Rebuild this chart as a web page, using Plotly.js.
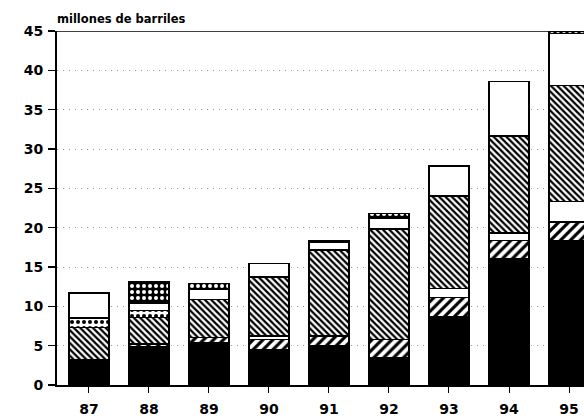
<!DOCTYPE html>
<html><head><meta charset="utf-8">
<script src="https://cdn.plot.ly/plotly-3.0.1.min.js"></script>
<style>html,body{margin:0;padding:0;background:#fff}#c{width:584px;height:419px}</style>
</head><body><div id="c"></div>
<script>
const years = ['87','88','89','90','91','92','93','94','95'];
const segBlack    = [3.0, 4.8, 5.4, 4.45, 4.95, 3.5, 8.7, 16.1, 18.4];
const segLightHatch = [0.2, 0.4, 0.65, 1.35, 1.25, 2.3, 2.45, 2.3, 2.35];
const segWhiteLow = [null, null, null, 0.4, null, null, 1.1, 0.9, 2.55];
const segDenseHatch = [4.1, 3.35, 4.85, 7.55, 10.95, 14.0, 11.75, 12.35, 14.8];
const segDots     = [1.2, 0.95, null, null, null, null, null, null, null];
const segWhiteTop = [3.2, 0.9, 1.25, 1.7, 0.95, 1.45, 3.75, 6.95, 6.6];
const segDarkDots = [null, 2.7, 0.75, null, 0.3, 0.55, 0.15, null, 0.3];

const pos = years.map((_, i) => i);
const line = {color: '#000', width: 1.5};
function tr(y, marker) {
  return {type: 'bar', x: pos, y: y, width: 0.67, showlegend: false, hoverinfo: 'y',
          marker: Object.assign({line: line}, marker)};
}
const data = [
  tr(segBlack, {color: '#000'}),
  tr(segLightHatch, {color: '#fff', pattern: {shape: '/', fgcolor: '#000', bgcolor: '#fff', size: 7, solidity: 0.45, fillmode: 'replace'}}),
  tr(segWhiteLow, {color: '#fff'}),
  tr(segDenseHatch, {color: '#fff', pattern: {shape: '\\', fgcolor: '#000', bgcolor: '#fff', size: 4.5, solidity: 0.5, fillmode: 'replace'}}),
  tr(segDots, {color: '#fff', pattern: {shape: '.', fgcolor: '#000', bgcolor: '#fff', size: 6, solidity: 0.35, fillmode: 'replace'}}),
  tr(segWhiteTop, {color: '#fff'}),
  tr(segDarkDots, {color: '#000', pattern: {shape: '.', fgcolor: '#fff', bgcolor: '#000', size: 6, solidity: 0.35, fillmode: 'replace'}})
];
const tickFont = {family: 'DejaVu Sans, Liberation Sans, Arial, sans-serif', size: 14, color: '#000', weight: 'bold'};
const layout = {
  width: 584, height: 419,
  margin: {l: 57, r: 0, t: 31, b: 34, pad: 0},
  paper_bgcolor: '#fff', plot_bgcolor: '#fff',
  barmode: 'stack',
  showlegend: false,
  xaxis: {
    range: [-0.533, 8.25], tickvals: pos, ticktext: years,
    showgrid: false, zeroline: false,
    showline: true, linecolor: '#000', linewidth: 2,
    ticks: 'outside', ticklen: 6, tickwidth: 1, tickcolor: '#000',
    ticklabelstandoff: 4,
    tickfont: tickFont
  },
  yaxis: {
    range: [0, 45], tickvals: [0,5,10,15,20,25,30,35,40,45],
    showgrid: true, gridcolor: '#999', griddash: '1px,5px', gridwidth: 1,
    zeroline: false,
    showline: true, linecolor: '#000', linewidth: 2,
    ticks: 'outside', ticklen: 7, tickwidth: 1.5, tickcolor: '#000',
    ticklabelstandoff: 2,
    tickfont: tickFont
  },
  shapes: [{type: 'line', xref: 'paper', yref: 'y', x0: 0, x1: 1, y0: 45, y1: 45, line: {color: '#000', width: 1.5}, layer: 'above'}],
  annotations: [{
    text: 'millones de barriles', xref: 'paper', yref: 'paper', x: 0, y: 1,
    xanchor: 'left', yanchor: 'bottom', yshift: 3, xshift: -2, showarrow: false,
    font: {family: 'DejaVu Sans, Liberation Sans, Arial, sans-serif', size: 11.5, color: '#000', weight: 'bold'}
  }]
};
Plotly.newPlot('c', data, layout, {displayModeBar: false, staticPlot: true});
</script>
</body></html>
